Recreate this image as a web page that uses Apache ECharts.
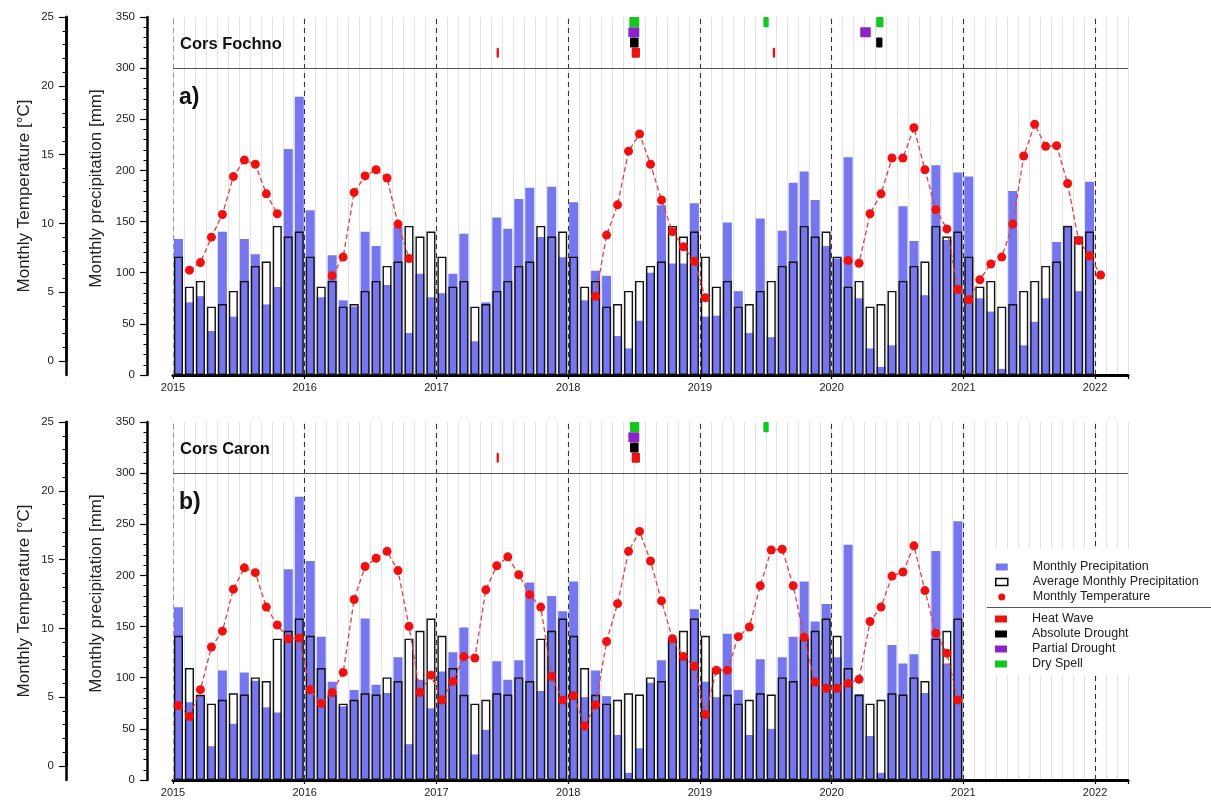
<!DOCTYPE html>
<html><head><meta charset="utf-8">
<script src="https://cdn.jsdelivr.net/npm/echarts@6/dist/echarts.min.js"></script>
<style>html,body{margin:0;padding:0;background:#fff}#c{width:1211px;height:808px}</style>
</head><body><div id="c"></div>
<script>
// ---------- DATA ----------
const yearLabels = ['2015','2016','2017','2018','2019','2020','2021','2022'];

// Cors Fochno (panel a), monthly precipitation Jan 2015 - Dec 2021 [mm]
const fochnoPrecip = [
  133, 71, 77, 43, 140, 57, 133, 118, 69, 86, 221, 272,
  161, 76, 117, 73, 67, 140, 126, 88, 145, 41, 99, 76,
  80, 99, 138, 33, 71, 154, 143, 172, 183, 135, 184, 115,
  169, 73, 102, 97, 38, 26, 53, 100, 166, 109, 109, 168,
  57, 58, 149, 82, 41, 153, 37, 141, 188, 199, 171, 126,
  114, 213, 75, 26, 8, 29, 165, 131, 78, 205, 132, 198,
  194, 75, 62, 6, 180, 29, 52, 75, 130, 146, 82, 189
];
// average monthly precipitation Jan..Dec [mm]
const fochnoAvg = [115.7, 86.4, 92, 66.8, 69.4, 82.2, 92, 106.6, 110.9, 145.7, 135.3, 140.2];
// monthly temperature Jan 2015 - Jan 2022 [°C], null = no value
const fochnoTemp = [
  null, 6.6, 7.15, 9.0, 10.65, 13.4, 14.6, 14.3, 12.15, 10.7, null, null,
  null, null, 6.2, 7.55, 12.25, 13.45, 13.9, 13.3, 9.95, 7.45, null, null,
  null, null, null, null, null, null, null, null, null, null, null, null,
  null, null, 4.7, 9.15, 11.35, 15.25, 16.5, 14.3, 11.7, 9.4, 8.3, 7.25,
  4.6, null, null, null, null, null, null, null, null, null, null, null,
  null, 7.3, 7.1, 10.7, 12.15, 14.75, 14.75, 16.95, 13.9, 11.0, 9.6, 5.2,
  4.45, 5.9, 7.05, 7.55, 9.95, 14.9, 17.2, 15.6, 15.65, 12.9, 8.75, 7.65,
  6.25
];
// events: [start, end] in months since Jan 2015
const fochnoHeatWave     = [[29.48, 29.69], [41.79, 42.54], [54.64, 54.85]];
const fochnoAbsDrought   = [[41.63, 42.42], [64.06, 64.63]];
const fochnoPartDrought  = [[41.48, 42.48], [62.6, 63.57]];
const fochnoDrySpell     = [[41.57, 42.48], [53.78, 54.27], [64.06, 64.72]];

// Cors Caron (panel b), monthly precipitation Jan 2015 - Dec 2020 [mm]
const caronPrecip = [
  169, 76, 83, 33, 107, 55, 105, 97, 71, 66, 206, 277,
  214, 140, 96, 72, 88, 158, 93, 85, 120, 35, 98, 70,
  106, 125, 149, 25, 49, 116, 98, 117, 193, 87, 180, 165,
  194, 81, 107, 82, 44, 7, 31, 95, 117, 137, 124, 167,
  96, 81, 143, 88, 44, 118, 50, 120, 140, 194, 155, 172,
  120, 230, 84, 43, 7, 132, 114, 123, 85, 224, 114, 253
];
const caronAvg = [141, 109.4, 83.3, 74.6, 78.4, 84.7, 83.6, 100.3, 96.7, 138.2, 145.9, 157.8];
const caronTemp = [
  4.4, 3.6, 5.55, 8.65, 9.8, 12.85, 14.4, 14.05, 11.55, 10.25, 9.25, 9.3,
  5.55, 4.55, 5.35, 6.8, 12.1, 14.5, 15.1, 15.6, 14.2, 10.15, 5.35, 6.6,
  4.8, 6.15, 7.95, 7.85, 12.8, 14.55, 15.2, 13.9, 12.45, 11.55, 6.5, 4.8,
  5.1, 2.9, 4.45, 9.05, 11.8, 15.6, 17.05, 14.9, 12.0, 9.25, 7.95, 7.25,
  3.75, 6.95, 6.95, 9.4, 10.1, 13.1, 15.7, 15.75, 13.1, 9.35, 6.1, 5.65,
  5.65, 6.0, 6.3, 10.5, 11.55, 13.8, 14.1, 16.0, 12.75, 9.65, 8.2, 4.8
];
const caronHeatWave    = [[29.48, 29.69], [41.79, 42.54]];
const caronAbsDrought  = [[41.63, 42.42]];
const caronPartDrought = [[41.48, 42.48]];
const caronDrySpell    = [[41.63, 42.48], [53.78, 54.27]];

// ---------- CHART ----------
const FONT = 'Liberation Sans';
const BLUE = '#7676ee';
const RED = '#f01010';
const COLORS = {
  'Heat Wave': '#ee1111',
  'Absolute Drought': '#000000',
  'Partial Drought': '#8e24c8',
  'Dry Spell': '#12c81e'
};
const LEVELS = {'Heat Wave': 315, 'Absolute Drought': 325, 'Partial Drought': 335, 'Dry Spell': 345};
const XMAX = 87;

const grids = [], xAxes = [], yAxes = [], series = [], titles = [];

function panel(p, top, name, tag, precip, avg, temp, events) {
  const g0 = grids.length;
  grids.push({left: 173, right: 83, top: top, height: 358});
  grids.push({left: 173, right: 83, top: top, height: 344});
  const x0 = xAxes.length;
  xAxes.push({
    gridIndex: g0, type: 'value', min: 0, max: XMAX, interval: 12,
    axisLine: {onZero: false, lineStyle: {color: '#000', width: 3}},
    axisTick: {length: 4, lineStyle: {color: '#000', width: 1.2}},
    axisLabel: {
      formatter: v => (v % 12 === 0 ? yearLabels[v / 12] : ''),
      fontSize: 11, color: '#222', fontFamily: FONT, margin: 7
    },
    splitLine: {show: false}
  });
  xAxes.push({
    gridIndex: g0, type: 'value', min: 0, max: XMAX, interval: 1, position: 'bottom',
    axisLine: {show: false, onZero: false}, axisTick: {show: false}, axisLabel: {show: false},
    splitLine: {show: true, lineStyle: {color: '#e2e2e2', width: 1}}, z: 0
  });
  xAxes.push({
    gridIndex: g0 + 1, type: 'value', min: 0, max: XMAX, show: false,
    axisLine: {onZero: false}
  });
  const y0 = yAxes.length;
  yAxes.push({
    gridIndex: g0, type: 'value', min: 0, max: 350, interval: 50, offset: 26,
    position: 'left',
    name: 'Monthly precipitation [mm]', nameLocation: 'middle', nameGap: 42, nameRotate: 90,
    nameTextStyle: {fontSize: 17, color: '#222', fontFamily: FONT, padding: [0, 0, 0, 15]},
    axisLine: {show: true, onZero: false, lineStyle: {color: '#000', width: 2.5}},
    axisTick: {show: true, length: 7, lineStyle: {color: '#000', width: 1.2}},
    minorTick: {show: true, splitNumber: 5, length: 3.5, lineStyle: {color: '#000', width: 1}},
    axisLabel: {fontSize: 11.5, color: '#222', fontFamily: FONT, margin: 12},
    splitLine: {show: false}
  });
  yAxes.push({
    gridIndex: g0, type: 'value', min: 0, max: 350, offset: 107, position: 'left',
    name: 'Monthly Temperature [°C]', nameLocation: 'middle', nameGap: 33, nameRotate: 90,
    nameTextStyle: {fontSize: 17, color: '#222', fontFamily: FONT},
    axisLine: {show: true, onZero: false, lineStyle: {color: '#000', width: 2.5}},
    axisTick: {show: false}, axisLabel: {show: false}, splitLine: {show: false}
  });
  yAxes.push({
    gridIndex: g0 + 1, type: 'value', min: 0, max: 25, interval: 5, offset: 107,
    position: 'left',
    axisLine: {show: true, onZero: false, lineStyle: {color: '#000', width: 2.5}},
    axisTick: {show: true, length: 7, lineStyle: {color: '#000', width: 1.2}},
    minorTick: {show: true, splitNumber: 5, length: 3.5, lineStyle: {color: '#000', width: 1}},
    axisLabel: {fontSize: 11.5, color: '#222', fontFamily: FONT, margin: 12},
    splitLine: {show: false}
  });

  const yearLines = yearLabels.map((y, i) => ({
    xAxis: (Number(y) - Number(yearLabels[0])) * 12,
    lineStyle: {color: i === 0 ? '#9a9a9a' : '#333', type: [5, 4], width: 1.1}
  }));

  series.push({
    name: 'Monthly Precipitation', type: 'bar', xAxisIndex: x0, yAxisIndex: y0,
    data: precip.map((v, i) => [i + 0.5, v]),
    barWidth: 9, itemStyle: {color: BLUE}, z: 3,
    markLine: {silent: true, symbol: ['none', 'none'], label: {show: false},
      data: yearLines, animation: false}
  });
  series.push({
    name: 'Average Monthly Precipitation', type: 'bar', xAxisIndex: x0, yAxisIndex: y0,
    data: precip.map((v, i) => [i + 0.5, avg[i % 12]]),
    barWidth: 9, barGap: '-100%',
    itemStyle: {color: 'rgba(0,0,0,0)', borderColor: '#111', borderWidth: 1.4}, z: 4,
    markLine: {silent: true, symbol: ['none', 'none'], label: {show: false},
      lineStyle: {color: '#555', type: 'solid', width: 1.2},
      data: [{yAxis: 300}], animation: false}
  });
  series.push({
    name: 'Monthly Temperature', type: 'line', xAxisIndex: x0 + 2, yAxisIndex: y0 + 2,
    data: temp.map((v, i) => [i + 0.5, v == null ? '-' : v]),
    connectNulls: false, symbol: 'circle', symbolSize: 9, showSymbol: true,
    lineStyle: {color: '#e04040', width: 1.3, type: [5, 3]},
    itemStyle: {color: RED}, z: 10
  });
  Object.keys(events).forEach(k => {
    const level = LEVELS[k];
    series.push({
      name: k, type: 'custom', xAxisIndex: x0, yAxisIndex: y0,
      itemStyle: {color: COLORS[k]}, z: 6,
      encode: {x: [0, 1]},
      data: events[k],
      renderItem: (params, api) => {
        const a = api.coord([api.value(0), level + 4.9]);
        const b = api.coord([api.value(1), level - 4.9]);
        return {type: 'rect', shape: {x: a[0], y: a[1], width: b[0] - a[0], height: b[1] - a[1], r: 1},
          style: {fill: COLORS[k]}};
      }
    });
  });
  titles.push({text: name, left: 180, top: top + 19, padding: 0,
    textStyle: {fontSize: 16.5, fontWeight: 'bold', color: '#111', fontFamily: FONT}});
  titles.push({text: tag, left: 179, top: top + 69, padding: 0,
    textStyle: {fontSize: 23, fontWeight: 'bold', color: '#111', fontFamily: FONT}});
}

panel(0, 17, 'Cors Fochno', 'a)', fochnoPrecip, fochnoAvg, fochnoTemp, {
  'Heat Wave': fochnoHeatWave, 'Absolute Drought': fochnoAbsDrought,
  'Partial Drought': fochnoPartDrought, 'Dry Spell': fochnoDrySpell
});
panel(1, 422, 'Cors Caron', 'b)', caronPrecip, caronAvg, caronTemp, {
  'Heat Wave': caronHeatWave, 'Absolute Drought': caronAbsDrought,
  'Partial Drought': caronPartDrought, 'Dry Spell': caronDrySpell
});

const legendText = {fontSize: 12.5, color: '#222', fontFamily: FONT, padding: [0, 0, 0, 20], lineHeight: 14};
const option = {
  animation: false,
  backgroundColor: '#fff',
  title: titles,
  grid: grids,
  xAxis: xAxes,
  yAxis: yAxes,
  legend: [
    {
      orient: 'vertical', left: 987, top: 548, padding: [12, 40, 2, 8], itemGap: 1,
      itemWidth: 12, itemHeight: 7, backgroundColor: '#fff', selectedMode: false,
      textStyle: legendText, z: 20,
      data: [
        {name: 'Monthly Precipitation', icon: 'rect'},
        {name: 'Average Monthly Precipitation', icon: 'rect',
          itemStyle: {color: '#fff', borderColor: '#000', borderWidth: 1.5}},
        {name: 'Monthly Temperature', icon: 'circle'}
      ]
    },
    {
      orient: 'vertical', left: 987, top: 606, padding: [6, 95, 4, 8], itemGap: 1,
      itemWidth: 12, itemHeight: 7, backgroundColor: '#fff', selectedMode: false,
      textStyle: legendText, z: 20,
      data: ['Heat Wave', 'Absolute Drought', 'Partial Drought', 'Dry Spell'].map(n => ({name: n, icon: 'rect'}))
    }
  ],
  graphic: [{
    type: 'line', z: 100, silent: true,
    shape: {x1: 987, y1: 607.5, x2: 1211, y2: 607.5},
    style: {stroke: '#555', lineWidth: 1}
  }],
  series: series
};

const chart = echarts.init(document.getElementById('c'), null, {renderer: 'canvas'});
chart.setOption(option);
</script>
</body></html>
